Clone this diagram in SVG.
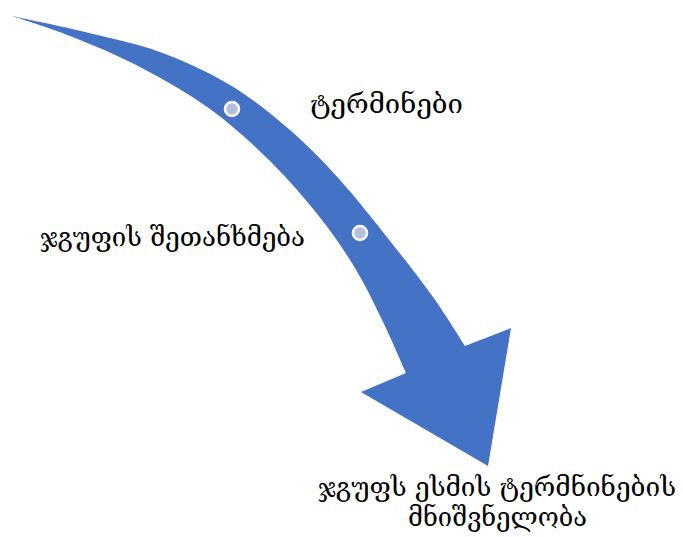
<svg xmlns="http://www.w3.org/2000/svg" width="683" height="537" viewBox="0 0 683 537">
<style>
.lbl{font-family:"DejaVu Serif","DejaVu Sans",serif;font-size:26px;fill:#000}
.dot{fill:#B4BEDE;stroke:#fff;stroke-width:2.5}
</style>
<rect width="683" height="537" fill="#fff"/>
<g id="arrow">
<path fill="#4472C4" d="M12,16 C24.2,18.7 60.3,26 85,32 C109.7,38 135.8,43.2 160,52 C184.2,60.8 208.3,72 230,85 C251.7,98 271.7,114.2 290,130 C308.3,145.8 323.3,161.5 340,180 C356.7,198.5 374.5,221.5 390,241 C405.5,260.5 420.5,279.5 433,297 C445.5,314.5 459.7,337.8 465,346 L511,328 L488,466 L361,392 L406,373 C402.2,364.5 391.5,339.5 383,322 C374.5,304.5 365.8,285.8 355,268 C344.2,250.2 332.2,232.8 318,215 C303.8,197.2 288,178.7 270,161 C252,143.3 231.7,124.7 210,109 C188.3,93.3 163.3,79.2 140,67 C116.7,54.8 91.3,44.5 70,36 C48.7,27.5 21.7,19.3 12,16 Z"/>
</g>
<g id="dot1"><circle class="dot" cx="232" cy="109" r="7"/></g>
<g id="dot2"><circle class="dot" cx="360" cy="233" r="7"/></g>
<g id="label1"><text class="lbl" x="310" y="113" textLength="153" lengthAdjust="spacingAndGlyphs">ტერმინები</text></g>
<g id="label2"><text class="lbl" x="40" y="246" textLength="265" lengthAdjust="spacingAndGlyphs">ჯგუფის შეთანხმება</text></g>
<g id="label3"><text class="lbl" x="318" y="496" textLength="358" lengthAdjust="spacingAndGlyphs">ჯგუფს ესმის ტერმნინების</text><text class="lbl" x="408" y="526" textLength="179" lengthAdjust="spacingAndGlyphs">მნიშვნელობა</text></g>
</svg>
